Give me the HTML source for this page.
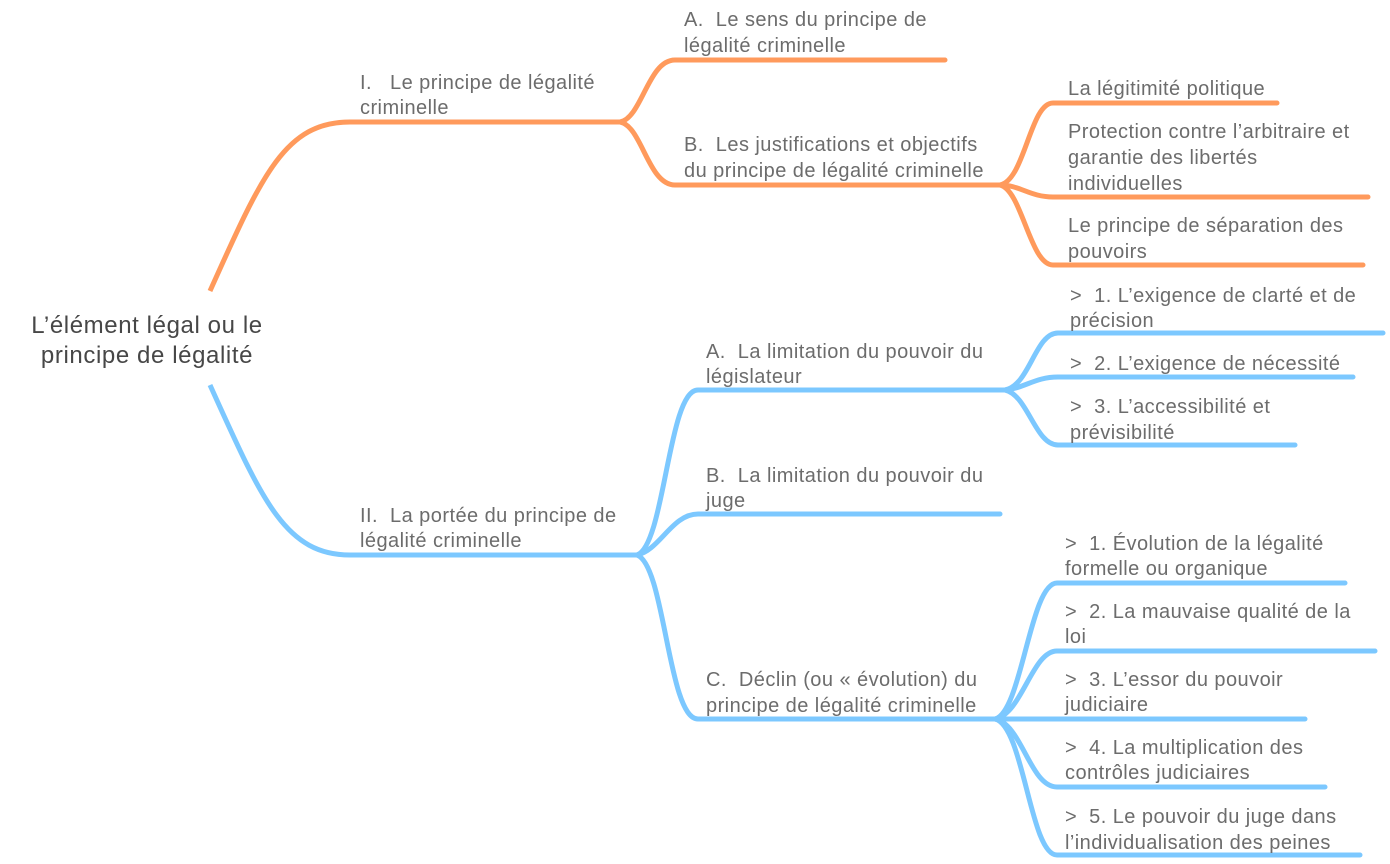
<!DOCTYPE html>
<html>
<head>
<meta charset="utf-8">
<style>
  html, body { margin:0; padding:0; background:#ffffff; }
  body { width:1390px; height:864px; overflow:hidden; }
  svg { display:block; }
  text { font-family: "Liberation Sans", "DejaVu Sans", sans-serif; white-space: pre; }
  .t { font-size:20px; letter-spacing:0.45px; fill:#6c6c6c; }
  .root { font-size:24px; letter-spacing:0.6px; fill:#474747; }
  .o { fill:none; stroke:#FF9A5C; stroke-width:5; stroke-linecap:round; stroke-linejoin:round; }
  .b { fill:none; stroke:#7CC8FF; stroke-width:5; stroke-linecap:round; stroke-linejoin:round; }
  .cut { stroke-linecap:butt; }
</style>
</head>
<body>
<svg width="1390" height="864" viewBox="0 0 1390 864" xmlns="http://www.w3.org/2000/svg">
  <!-- Orange branch -->
  <path class="o cut" d="M210,291 C262,175 285,122 350,122 L620,122"/>
  <path class="o" d="M620,122 C642,118 648,60 675,60 L945,60"/>
  <path class="o" d="M620,122 C642,126 648,185 675,185 L1000,185"/>
  <path class="o" d="M1000,185 C1025,180 1030,103 1053,103 L1277,103"/>
  <path class="o" d="M1000,185 C1020,185 1030,197 1053,197 L1368,197"/>
  <path class="o" d="M1000,185 C1022,190 1030,265 1053,265 L1363,265"/>

  <!-- Blue branch -->
  <path class="b cut" d="M210,385 C262,500 285,555 350,555 L637,555"/>
  <path class="b" d="M637,555 C665,545 668,390 698,390 L1005,390"/>
  <path class="b" d="M637,555 C660,550 672,514 698,514 L1000,514"/>
  <path class="b" d="M637,555 C665,565 668,719 698,719 L995,719"/>
  <path class="b" d="M1005,390 C1030,385 1035,333 1058,333 L1383,333"/>
  <path class="b" d="M1005,390 C1025,388 1035,377 1058,377 L1353,377"/>
  <path class="b" d="M1005,390 C1028,395 1035,445 1058,445 L1295,445"/>
  <path class="b" d="M995,719 C1022,712 1030,583 1057,583 L1345,583"/>
  <path class="b" d="M995,719 C1022,714 1032,651 1057,651 L1375,651"/>
  <path class="b" d="M995,719 L1305,719"/>
  <path class="b" d="M995,719 C1022,724 1030,787 1057,787 L1325,787"/>
  <path class="b" d="M995,719 C1024,726 1030,855 1057,855 L1360,855"/>

  <!-- Root -->
  <text class="root" x="147" y="333" text-anchor="middle">L’élément légal ou le</text>
  <text class="root" x="147" y="363" text-anchor="middle">principe de légalité</text>

  <!-- Orange labels -->
  <text class="t" x="360" y="89">I.   Le principe de légalité</text>
  <text class="t" x="360" y="114">criminelle</text>

  <text class="t" x="684" y="26">A.  Le sens du principe de</text>
  <text class="t" x="684" y="52">légalité criminelle</text>

  <text class="t" x="684" y="151">B.  Les justifications et objectifs</text>
  <text class="t" x="684" y="177">du principe de légalité criminelle</text>

  <text class="t" x="1068" y="95">La légitimité politique</text>

  <text class="t" x="1068" y="138">Protection contre l’arbitraire et</text>
  <text class="t" x="1068" y="164">garantie des libertés</text>
  <text class="t" x="1068" y="190">individuelles</text>

  <text class="t" x="1068" y="232">Le principe de séparation des</text>
  <text class="t" x="1068" y="258">pouvoirs</text>

  <!-- Blue labels -->
  <text class="t" x="360" y="522">II.  La portée du principe de</text>
  <text class="t" x="360" y="547">légalité criminelle</text>

  <text class="t" x="706" y="358">A.  La limitation du pouvoir du</text>
  <text class="t" x="706" y="383">législateur</text>

  <text class="t" x="706" y="482">B.  La limitation du pouvoir du</text>
  <text class="t" x="706" y="507">juge</text>

  <text class="t" x="706" y="686">C.  Déclin (ou « évolution) du</text>
  <text class="t" x="706" y="712">principe de légalité criminelle</text>

  <text class="t" x="1070" y="302">&gt;  1. L’exigence de clarté et de</text>
  <text class="t" x="1070" y="327">précision</text>

  <text class="t" x="1070" y="370">&gt;  2. L’exigence de nécessité</text>

  <text class="t" x="1070" y="413">&gt;  3. L’accessibilité et</text>
  <text class="t" x="1070" y="439">prévisibilité</text>

  <text class="t" x="1065" y="550">&gt;  1. Évolution de la légalité</text>
  <text class="t" x="1065" y="575">formelle ou organique</text>

  <text class="t" x="1065" y="618">&gt;  2. La mauvaise qualité de la</text>
  <text class="t" x="1065" y="643">loi</text>

  <text class="t" x="1065" y="686">&gt;  3. L’essor du pouvoir</text>
  <text class="t" x="1065" y="711">judiciaire</text>

  <text class="t" x="1065" y="754">&gt;  4. La multiplication des</text>
  <text class="t" x="1065" y="779">contrôles judiciaires</text>

  <text class="t" x="1065" y="823">&gt;  5. Le pouvoir du juge dans</text>
  <text class="t" x="1065" y="849">l’individualisation des peines</text>
</svg>
</body>
</html>
